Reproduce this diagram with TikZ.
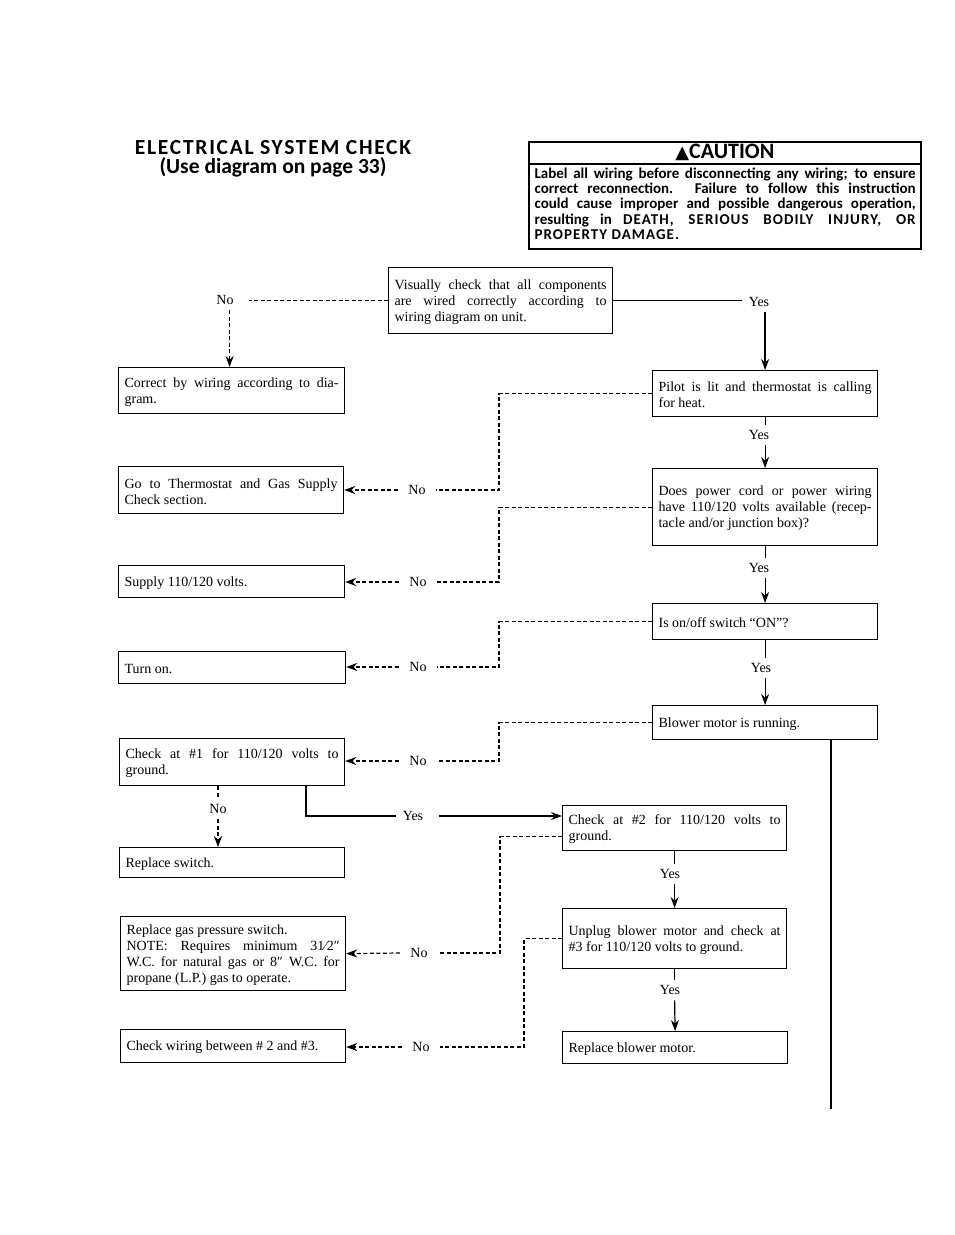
\documentclass[tikz,border=0pt]{standalone}
\usepackage{fontspec}
\setmainfont{Liberation Serif}
\newfontfamily\headfont{Carlito}
\newfontfamily\signfont{DejaVu Sans}
\usetikzlibrary{arrows.meta}
\newcommand{\wide}[2]{{\addfontfeature{LetterSpace=#1}#2}}
\begin{document}
\sloppy
\begin{tikzpicture}[x=1pt, y=-1pt, >={Stealth[length=11pt,width=8pt]}, line width=1.2pt,
  box/.style={draw, anchor=north west, align=justify, inner xsep=6pt, inner ysep=0pt,
    font=\fontsize{14}{16}\selectfont, execute at begin node={\rule{0pt}{12pt}}},
  lab/.style={inner xsep=10pt, inner ysep=5pt, font=\fontsize{14}{16}\selectfont},
  nl/.style={dash pattern=on 4pt off 2.5pt}]
 \useasboundingbox (0,0) rectangle (954,1235);
 % heading
 \node[font=\headfont\bfseries\fontsize{21.5}{19.5}\selectfont, align=center] (title) at (273,159)
    {\wide{8}{ELECTRICAL SYSTEM CHECK}\\(Use diagram on page 33)};
 \node[draw, line width=1.7pt, anchor=north west, minimum width=392pt, minimum height=107pt] (caution) at (528,141) {};
 \node[draw, line width=1.7pt, anchor=north west, minimum width=392pt, minimum height=22pt, inner sep=0pt,
    font=\headfont\bfseries\fontsize{22}{22}\selectfont] (cauthead) at (528,141) {{\signfont\fontsize{18}{18}\selectfont ▲}CAUTION};
 \node[anchor=north west, text width=381pt, align=justify, inner sep=0pt,
    font=\headfont\bfseries\fontsize{15}{15.3}\selectfont] (cautext) at (534,167)
    {Label all wiring before disconnecting any wiring; to ensure\linebreak
     correct reconnection. Failure to follow this instruction\linebreak
     could cause improper and possible dangerous operation,\linebreak
     resulting in \wide{7}{DEATH, SERIOUS BODILY INJURY, OR}\linebreak
     \wide{7}{PROPERTY DAMAGE.}};
 % boxes
 \node[box, text width=212pt, minimum height=66pt] (visual) at (388,267)
    {Visually check that all components\linebreak are wired correctly according to\linebreak wiring diagram on unit.};
 \node[box, text width=214pt, minimum height=46pt] (correct) at (118,367)
    {Correct by wiring according to dia-\linebreak gram.};
 \node[box, text width=213pt, minimum height=47pt] (thermo) at (118,466)
    {Go to Thermostat and Gas Supply\linebreak Check section.};
 \node[box, text width=214pt, minimum height=32pt] (supply) at (118,565) {Supply 110/120 volts.};
 \node[box, text width=215pt, minimum height=32pt] (turnon) at (118,651) {Turn on.};
 \node[box, text width=213pt, minimum height=47pt] (checkA) at (119,738)
    {Check at \#1 for 110/120 volts to\linebreak ground.};
 \node[box, text width=213pt, minimum height=30pt] (replsw) at (119,847) {Replace switch.};
 \node[box, text width=213pt, minimum height=74pt] (gas) at (120,916)
    {Replace gas pressure switch.\newline NOTE: Requires minimum 31⁄2″\linebreak W.C. for natural gas or 8″ W.C. for\linebreak propane (L.P.) gas to operate.};
 \node[box, text width=213pt, minimum height=33pt] (wiring) at (120,1029) {Check wiring between \# 2 and \#3.};
 \node[box, text width=213pt, minimum height=46pt] (pilot) at (652,370)
    {Pilot is lit and thermostat is calling\linebreak for heat.};
 \node[box, text width=213pt, minimum height=77pt] (power) at (652,468)
    {Does power cord or power wiring\linebreak have 110/120 volts available (recep-\linebreak tacle and/or junction box)?};
 \node[box, text width=213pt, minimum height=36pt] (onoff) at (652,603) {Is on/off switch “ON”?};
 \node[box, text width=213pt, minimum height=34pt] (blower) at (652,705) {Blower motor is running.};
 \node[box, text width=212pt, minimum height=45pt] (checkB) at (562,805)
    {Check at \#2 for 110/120 volts to\linebreak ground.};
 \node[box, text width=212pt, minimum height=60pt] (unplug) at (562,908)
    {Unplug blower motor and check at\linebreak \#3 for 110/120 volts to ground.};
 \node[box, text width=213pt, minimum height=32pt] (replbl) at (562,1031) {Replace blower motor.};
 % labels
 \node[lab, inner xsep=15pt] (noA) at (225,300) {No};
 \node[lab] (noB) at (417,490) {No};
 \node[lab] (noC) at (418,582) {No};
 \node[lab] (noD) at (418,667) {No};
 \node[lab] (noE) at (418,761) {No};
 \node[lab] (noF) at (218,809) {No};
 \node[lab] (noG) at (419,953) {No};
 \node[lab] (noH) at (421,1047) {No};
 \node[lab, inner xsep=6pt] (yesA) at (759,302) {Yes};
 \node[lab] (yesB) at (759,435) {Yes};
 \node[lab] (yesC) at (759,568) {Yes};
 \node[lab] (yesD) at (761,668) {Yes};
 \node[lab, inner xsep=6pt] (yesE) at (413,816) {Yes};
 \node[lab] (yesF) at (670,874) {Yes};
 \node[lab] (yesG) at (670,990) {Yes};
 \coordinate (end) at (831,1109);
 % no branches
 \draw[nl] (visual.west) -- (noA.east |- visual.west);
 \draw[nl, ->] ([xshift=-2pt]correct.north |- noA.south) -- ([xshift=-2pt]correct.north);
 \foreach \from/\lab/\to in {pilot/noB/thermo, power/noC/supply, onoff/noD/turnon, blower/noE/checkA}{
    \draw[nl] (\from.west) -- ++(-153,0) |- (\lab.east);
    \draw[nl, ->] (\lab.west) -- (\to.east |- \lab.west);
 }
 \draw[nl] ([yshift=-8.5pt]checkB.west) -- ++(-62,0) |- (noG.east);
 \draw[nl, ->] (noG.west) -- (gas.east);
 \draw[nl] (unplug.west) -- ++(-38,0) |- (noH.east);
 \draw[nl, ->] (noH.west) -- (wiring.east |- noH.west);
 \draw[nl] (checkA.south -| noF) -- (noF.north);
 \draw[nl, ->] (noF.south) -- (replsw.north -| noF);
 % yes branches
 \draw (visual.east) -- (yesA.west |- visual.east);
 \draw[->, line width=1.4pt] (pilot.north |- yesA.south) -- (pilot.north);
 \foreach \from/\lab/\to in {pilot/yesB/power, power/yesC/onoff, onoff/yesD/blower, checkB/yesF/unplug, unplug/yesG/replbl}{
    \draw (\from.south) -- (\from.south |- \lab.north);
    \draw[->] (\from.south |- \lab.south) -- (\to.north);
 }
 \draw[line width=1.6pt] (checkA.south -| 306,0) |- (yesE.west);
 \draw[->, line width=1.4pt] ([xshift=9pt]yesE.east) -- (checkB.west |- yesE.east);
 \draw (blower.south -| end) -- (end);
\end{tikzpicture}
\end{document}
